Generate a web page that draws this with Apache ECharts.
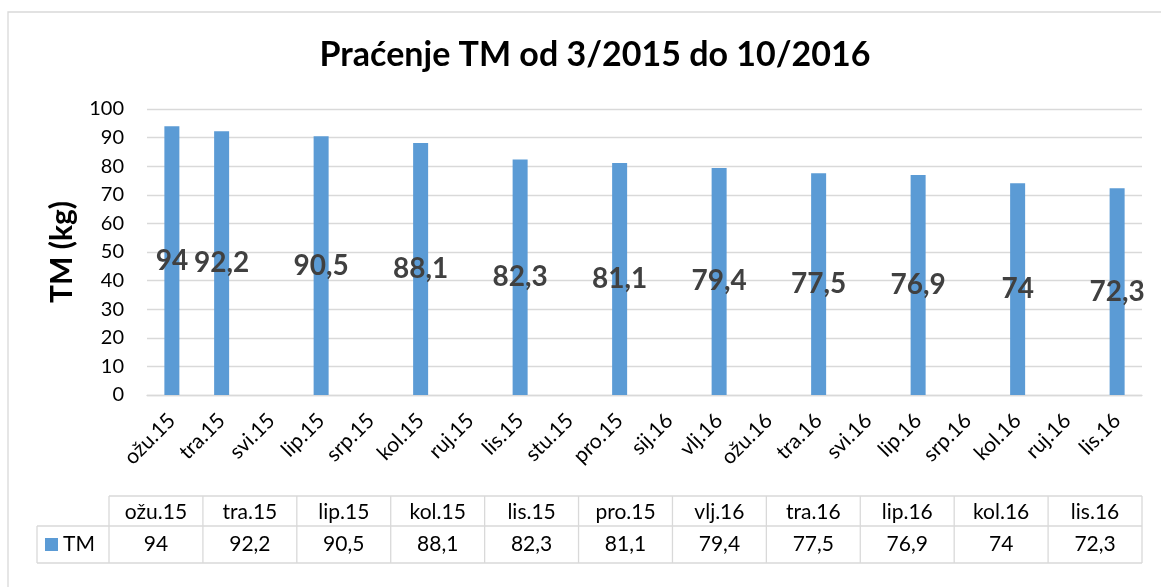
<!DOCTYPE html>
<html>
<head>
<meta charset="utf-8">
<script src="https://cdn.jsdelivr.net/npm/echarts@6/dist/echarts.min.js"></script>
<style>html,body{margin:0;padding:0;background:#fff;}#c{width:1161px;height:587px;}</style>
</head>
<body>
<div id="c"></div>
<script>
const titleText = 'Praćenje TM od 3/2015 do 10/2016';
const yAxisName = 'TM (kg)';
const seriesName = 'TM';
const months = ['ožu.15','tra.15','svi.15','lip.15','srp.15','kol.15','ruj.15','lis.15','stu.15','pro.15','sij.16','vlj.16','ožu.16','tra.16','svi.16','lip.16','srp.16','kol.16','ruj.16','lis.16'];
const measuredMonths = ['ožu.15','tra.15','lip.15','kol.15','lis.15','pro.15','vlj.16','tra.16','lip.16','kol.16','lis.16'];
const measuredValues = [94, 92.2, 90.5, 88.1, 82.3, 81.1, 79.4, 77.5, 76.9, 74, 72.3];
const yTicks = [0,10,20,30,40,50,60,70,80,90,100];

const fmt = v => String(v).replace('.', ',');
const barData = months.map(m => {
  const i = measuredMonths.indexOf(m);
  return i >= 0 ? measuredValues[i] : null;
});

const FONT = 'Lato';
const chart = echarts.init(document.getElementById('c'), null, {renderer: 'canvas'});

// data table built from arrays
const tLeft = 109, tRight = 1142, legLeft = 37;
const hTop = 496, hBot = 526, dBot = 563;
const colW = (tRight - tLeft) / measuredMonths.length;
const border = {stroke: '#D9D9D9', lineWidth: 1.3};
const tableEls = [];
const line = (x1, y1, x2, y2) => tableEls.push({type: 'line', shape: {x1, y1, x2, y2}, style: border, silent: true});
line(tLeft, hTop, tRight, hTop);
line(legLeft, hBot, tRight, hBot);
line(legLeft, dBot, tRight, dBot);
line(legLeft, hBot, legLeft, dBot);
for (let i = 0; i <= measuredMonths.length; i++) {
  const x = tLeft + i * colW;
  line(x, hTop, x, dBot);
}
const TFS = '21px ';
measuredMonths.forEach((m, i) => {
  const cx = tLeft + (i + 0.5) * colW;
  tableEls.push({type: 'text', x: cx, y: (hTop + hBot) / 2 + 1, style: {text: m, fill: '#000', font: TFS + FONT, textAlign: 'center', textVerticalAlign: 'middle'}, silent: true});
  tableEls.push({type: 'text', x: cx, y: (hBot + dBot) / 2, style: {text: fmt(measuredValues[i]), fill: '#000', font: TFS + FONT, textAlign: 'center', textVerticalAlign: 'middle'}, silent: true});
});
tableEls.push({type: 'rect', shape: {x: 45, y: 538, width: 13, height: 13}, style: {fill: '#5B9BD5'}, silent: true});
tableEls.push({type: 'text', x: 63, y: (hBot + dBot) / 2, style: {text: seriesName, fill: '#000', font: TFS + FONT, textAlign: 'left', textVerticalAlign: 'middle'}, silent: true});
// outer chart border
tableEls.push({type: 'rect', shape: {x: 8, y: 12, width: 1170, height: 600}, style: {fill: 'none', stroke: '#D9D9D9', lineWidth: 1.3}, silent: true, z: -1});

chart.setOption({
  animation: false,
  backgroundColor: '#fff',
  title: {
    text: titleText,
    left: 590,
    textAlign: 'center',
    top: 33,
    textStyle: {fontFamily: FONT, fontSize: 34, fontWeight: 'bold', color: '#000'}
  },
  grid: {left: 147, right: 19, top: 109, bottom: 192, containLabel: false},
  xAxis: {
    type: 'category',
    data: months,
    axisTick: {show: false},
    axisLine: {lineStyle: {color: '#D9D9D9', width: 1.3}},
    axisLabel: {interval: 0, rotate: 45, color: '#000', fontFamily: FONT, fontSize: 21, margin: 22}
  },
  yAxis: {
    type: 'value',
    min: yTicks[0],
    max: yTicks[yTicks.length - 1],
    interval: 10,
    name: yAxisName,
    nameLocation: 'middle',
    nameGap: 70,
    nameTextStyle: {fontFamily: FONT, fontSize: 30, fontWeight: 'bold', color: '#000'},
    axisLine: {show: false},
    axisTick: {show: false},
    splitLine: {lineStyle: {color: '#D9D9D9', width: 1.3}},
    axisLabel: {color: '#000', fontFamily: FONT, fontSize: 20, margin: 23}
  },
  series: [{
    name: seriesName,
    type: 'bar',
    data: barData,
    barWidth: 15,
    itemStyle: {color: '#5B9BD5'},
    label: {
      show: true,
      position: 'inside',
      formatter: p => fmt(p.value),
      color: '#404040',
      fontFamily: FONT,
      fontSize: 28,
      fontWeight: 'bold',
      textBorderWidth: 0
    }
  }],
  graphic: tableEls
});
</script>
</body>
</html>
